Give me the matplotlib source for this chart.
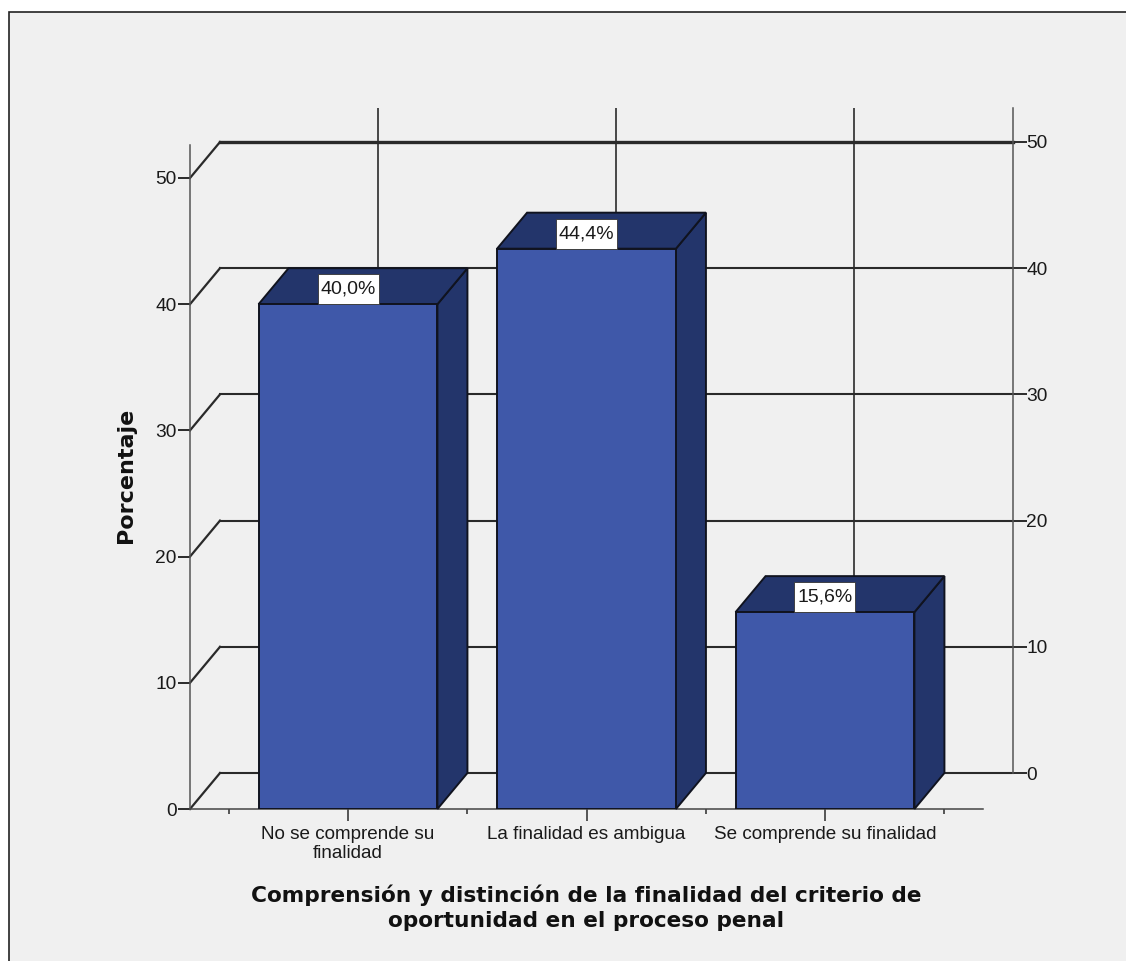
import matplotlib
matplotlib.use("Agg")
import matplotlib.pyplot as plt
from matplotlib.patches import Polygon, Rectangle

categories = ["No se comprende su\nfinalidad", "La finalidad es ambigua", "Se comprende su finalidad"]
porcentajes = [40.0, 44.4, 15.6]
etiquetas = ["40,0%", "44,4%", "15,6%"]
y_ticks = [0, 10, 20, 30, 40, 50]
minor_x = [-0.5, 0.5, 1.5, 2.5]
xlabel = "Comprensión y distinción de la finalidad del criterio de\noportunidad en el proceso penal"
ylabel = "Porcentaje"

W, H = 1126, 961
BG = "#f0f0f0"
FRONT = "#3f58a9"
DARK = "#23356b"
EDGE = "#10131f"
LINE = "#2a2a2a"
TEXT = "#1a1a1a"
PX_CAT = 238.5  # pixels per category
PX_VAL = 12.62  # pixels per percent
DX = 30 / PX_CAT
DY = 36 / PX_VAL
XLIM = (-0.6625, 2.6625)
BAR_W = 0.75

plt.rcParams["font.family"] = ["Liberation Sans", "DejaVu Sans"]

fig = plt.figure(figsize=(W / 100, H / 100), dpi=100, facecolor="white")
# panel background, bottom and right edges fall outside the picture
fig.add_artist(Rectangle((9 / W, -0.01), 1, 1.01 - 12 / H, transform=fig.transFigure,
                         facecolor=BG, edgecolor="#222222", linewidth=1.2, zorder=-1))


def axes_px(left, right, top, bottom):
    return fig.add_axes([left / W, 1 - bottom / H, (right - left) / W, (bottom - top) / H])


# back wall, shifted by the depth of the 3D box
back = axes_px(219.5, 1012.5, 108, 773)
back.set_xlim(*XLIM)
back.set_ylim(0, (773 - 108) / PX_VAL)
back.patch.set_visible(False)
for s in ["left", "top", "bottom"]:
    back.spines[s].set_visible(False)
back.spines["right"].set_color("#555555")
back.spines["right"].set_linewidth(1.1)
back.yaxis.tick_right()
back.set_yticks(y_ticks)
back.tick_params(axis="y", length=10, width=1.4, color=LINE, labelsize=13.8, pad=0, labelcolor=TEXT)
back.set_xticks(range(len(categories)))
back.tick_params(axis="x", length=0, labelbottom=False)
back.grid(True, axis="x", color=LINE, linewidth=1.2)
for v in y_ticks:
    back.axhline(v, color=LINE, linewidth=2.4 if v == 50 else 1.5, clip_on=False, zorder=2)

# front plane
ax = axes_px(190, 983, 145, 809)
ax.set_xlim(*XLIM)
ax.set_ylim(0, (809 - 145) / PX_VAL)
ax.patch.set_visible(False)
for s in ["top", "right"]:
    ax.spines[s].set_visible(False)
ax.spines["left"].set_color("#555555")
ax.spines["left"].set_linewidth(1.1)
ax.spines["bottom"].set_color("#444444")
ax.spines["bottom"].set_linewidth(1.1)

ax.set_yticks(y_ticks)
ax.tick_params(axis="y", length=8.6, width=1.4, color=LINE, labelsize=13.8, pad=1, labelcolor=TEXT)
ax.set_xticks(range(len(categories)))
ax.set_xticklabels(categories, linespacing=1.2)
ax.tick_params(axis="x", length=8.6, width=1.1, color=LINE, labelsize=13.6, pad=3.5, labelcolor=TEXT)
ax.set_xticks(minor_x, minor=True)
ax.tick_params(axis="x", which="minor", length=3.6, width=1.1, color=LINE)

# slanted lines on the left wall
xmin = XLIM[0]
for v in y_ticks:
    ax.plot([xmin, xmin + DX], [v, v + DY], color=LINE, linewidth=1.6, clip_on=False, zorder=2)

for i, v in enumerate(porcentajes):
    left, right = i - BAR_W / 2, i + BAR_W / 2
    ax.add_patch(Polygon([(right, 0), (right + DX, DY), (right + DX, v + DY), (right, v)],
                         facecolor=DARK, edgecolor=EDGE, linewidth=1.4, zorder=3, clip_on=False))
    ax.add_patch(Polygon([(left, v), (left + DX, v + DY), (right + DX, v + DY), (right, v)],
                         facecolor=DARK, edgecolor=EDGE, linewidth=1.4, zorder=3, clip_on=False))
ax.bar(range(len(categories)), porcentajes, width=BAR_W, color=FRONT, edgecolor=EDGE, linewidth=1.4, zorder=4)

box_w, box_h = 61 / PX_CAT, 30 / PX_VAL
for i, (v, lab) in enumerate(zip(porcentajes, etiquetas)):
    ax.add_patch(Rectangle((i - box_w / 2, v), box_w, box_h, facecolor="white",
                           edgecolor="#333333", linewidth=0.6, zorder=5, clip_on=False))
    ax.text(i, v + box_h / 2, lab, ha="center", va="center", fontsize=14, color=TEXT,
            zorder=6, clip_on=False)

ax.set_xlabel(xlabel, fontsize=15.6, fontweight="bold", family=["DejaVu Sans"], labelpad=16,
              linespacing=1.32, color="#111111")
ax.set_ylabel(ylabel, fontsize=16, fontweight="bold", family=["DejaVu Sans"], labelpad=14,
              color="#111111", y=0.503)

fig.savefig("out.png", dpi=100, facecolor=fig.get_facecolor())
